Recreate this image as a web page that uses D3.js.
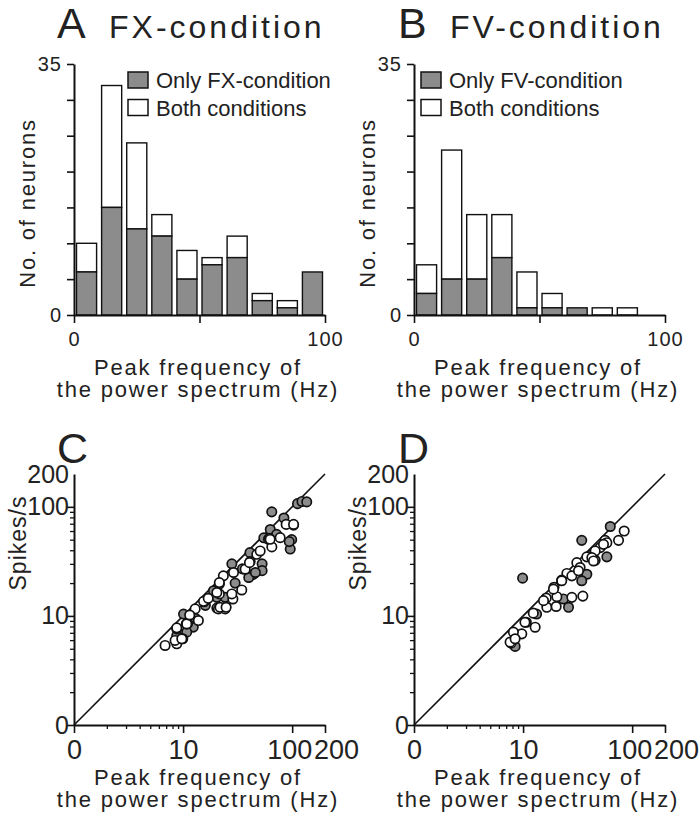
<!DOCTYPE html>
<html><head><meta charset="utf-8">
<script src="https://cdn.jsdelivr.net/npm/d3@7"></script>
<style>
body{margin:0;background:#fff;}
text{font-family:"Liberation Sans",Arial,sans-serif;fill:#222;}
</style></head><body>
<svg id="chart" width="700" height="827"></svg>
<script>
// ---------- DATA ----------
const binStarts = [0,10,20,30,40,50,60,70,80,90];
const fxOnly  = [6,15,12,11,5,7,8,2,1,6];
const fxBoth  = [4,17,12,3,4,1,3,1,1,0];
const fvOnly  = [3,5,5,8,1,1,1,0,0,0];
const fvBoth  = [4,18,9,6,5,2,0,1,1,0];
const histYTicks = [0,5,10,15,20,25,30,35];
const histXTicks = [0,50,100];

const cGray = [[65,90],[84,79],[112,107],[123,112],[136,111],[103,68],[99,50],[96,41],[63,62],[55,52],[72,56],[94,48],
  [28,30],[53,30],[44,24],[41,38],[53,26],[40,22.5],[46,25],[20.4,14.8],[24.3,14.8],[19,17],[12.4,7.9],[10.8,7.1],
  [10.1,10.4],[8.75,6.6],[30,20],[35,27],[16,12.5],[13,9.5],[11,8.5]];
const cWhite = [[6.84,5.36],[8.75,5.55],[8.75,7.61],[9.93,6.17],[10.7,8.45],[12.9,11.6],[13.8,9.07],[15.6,13.5],
  [20.4,11.8],[21.5,15.9],[21.5,19.6],[24.6,12.0],[23.4,23.3],[28.6,14.3],[29.0,25.0],[34.5,17.3],[37.1,26.8],
  [41.2,31.5],[47.4,36.7],[50.9,39.4],[60.6,50.4],[65.1,42.9],[77.6,52.2],[88.1,69.0],[8.45,5.96],[9.73,6.17],
  [8.75,7.78],[10.8,8.45],[15.4,13.6],[21.1,11.6],[24.3,11.6],[28.0,15.9],[21.5,20.2],[20.4,16.4],[21.8,12.0],
  [24.8,12.0],[40.6,30.8],[61.9,51.4],[103,69.0],[62.8,50.4],[11.5,10.2],[17,14.5]];
const dGray = [[9.9,22.2],[34.5,49.3],[63,66],[58.6,34.8],[26.1,12.0],[8.45,5.25],[38.4,24.1],[34.5,21.0],
  [23.4,14.3],[13.3,10.4],[8.45,6.85]];
const dWhite = [[84.5,60.0],[75.0,49.3],[56.5,49.3],[44.2,38.1],[45.8,32.4],[38.4,34.8],[31.1,30.8],[33.3,27.8],
  [25.2,24.5],[28.0,23.3],[22.6,21.3],[19.2,18.3],[20.4,15.0],[16.3,14.6],[16.5,12.0],[20.1,12.2],[28.0,14.8],
  [35.3,15.2],[12.4,10.6],[10.7,8.75],[9.73,6.85],[8.15,7.10],[7.76,5.63],[50.9,42.3],[45.8,39.4],[12.9,7.88],
  [7.6,5.75],[8.45,6.17],[10.4,8.75],[15.4,13.8],[19.0,17.6],[22.6,21.0],[32.2,25.9],[58.6,46.9],[54.6,45.3],
  [42.7,34.2],[44.2,31.9]];
const logMajor = [1,10,100];
const logXMinor = [2,3,4,5,6,7,8,9];
const logYMinor = [2,3,4,5,6,7,8,9,20,30,40,50,60,70,80,90];
const logLabels = {1:"0",10:"10",100:"100",200:"200"};

const GRAY = "#8c8c8c";
const svg = d3.select("#chart");

function styleAxis(g){
  g.select(".domain").attr("stroke","#111").attr("stroke-width",2);
  g.selectAll(".tick line").attr("stroke","#111").attr("stroke-width",1.6);
  g.selectAll(".tick text").attr("fill","#222");
}

function title(x, letter, label, y){
  svg.append("text").attr("x",x).attr("y",y).attr("font-size",43).text(letter);
  if(label) svg.append("text").attr("x",x+52).attr("y",y).attr("font-size",32).attr("letter-spacing","3px").text(label);
}

function xTitle(cx, y){
  const t = svg.append("text").attr("text-anchor","middle").attr("font-size",22).attr("letter-spacing","1.8px");
  t.append("tspan").attr("x",cx).attr("y",y).text("Peak frequency of");
  t.append("tspan").attr("x",cx).attr("y",y+22).text("the power spectrum (Hz)");
}

function histogram(x0, only, both, legendLabel){
  const x = d3.scaleLinear().domain([0,100]).range([x0, x0+251]);
  const y = d3.scaleLinear().domain([0,35]).range([315,64]);
  const band = d3.scaleBand().domain(binStarts).range([x0, x0+251]).paddingInner(0.2).paddingOuter(0.1);
  const g = svg.append("g");
  binStarts.forEach((b,i)=>{
    const tot = only[i]+both[i];
    if(both[i]>0) g.append("rect").attr("x",band(b)).attr("width",band.bandwidth())
      .attr("y",y(tot)).attr("height",y(only[i])-y(tot)).attr("fill","#fff").attr("stroke","#111").attr("stroke-width",1.4);
    if(only[i]>0) g.append("rect").attr("x",band(b)).attr("width",band.bandwidth())
      .attr("y",y(only[i])).attr("height",y(0)-y(only[i])).attr("fill",GRAY).attr("stroke","#111").attr("stroke-width",1.4);
  });
  const ya = svg.append("g").attr("transform",`translate(${x0},0)`)
    .call(d3.axisLeft(y).tickValues(histYTicks).tickSize(7).tickSizeOuter(0)
      .tickFormat(d=> (d===0||d===35)? String(d):""));
  styleAxis(ya);
  ya.selectAll(".tick text").attr("font-size",20).attr("font-family","Liberation Sans").attr("letter-spacing","1px").attr("dx",-2);
  const xa = svg.append("g").attr("transform",`translate(0,315)`)
    .call(d3.axisBottom(x).tickValues(histXTicks).tickSize(8).tickSizeOuter(0)
      .tickFormat(d=> d===50? "": String(d)));
  styleAxis(xa);
  xa.selectAll(".tick text").attr("font-size",20).attr("font-family","Liberation Sans").attr("letter-spacing","1px").attr("dy","1em");
  svg.append("text").attr("transform",`translate(${x0-39},203) rotate(-90)`).attr("text-anchor","middle")
    .attr("font-size",22).attr("letter-spacing","1.8px").text("No. of neurons");
  const lx = x0 + (legendLabel.indexOf("FX")>=0 ? 54 : 7);
  [[GRAY,legendLabel],["#fff","Both conditions"]].forEach((d,i)=>{
    svg.append("rect").attr("x",lx).attr("y",72+i*27.5).attr("width",20).attr("height",16)
      .attr("fill",d[0]).attr("stroke","#111").attr("stroke-width",1.5);
    svg.append("text").attr("x",lx+28).attr("y",88+i*27.5).attr("font-size",22).text(d[1]);
  });
  xTitle(x0+124, 375);
}

function scatter(x0, gray, white){
  const x = d3.scaleLog().domain([1,200]).range([x0, x0+251]);
  const y = d3.scaleLog().domain([1,200]).range([725,474]);
  svg.append("line").attr("x1",x(1)).attr("y1",y(1)).attr("x2",x(200)).attr("y2",y(200))
    .attr("stroke","#111").attr("stroke-width",1.6);
  const g = svg.append("g");
  g.selectAll(".g").data(gray).enter().append("circle")
    .attr("cx",d=>x(d[0])).attr("cy",d=>y(d[1])).attr("r",4.7)
    .attr("fill",GRAY).attr("stroke","#111").attr("stroke-width",1.7);
  g.selectAll(".w").data(white).enter().append("circle")
    .attr("cx",d=>x(d[0])).attr("cy",d=>y(d[1])).attr("r",4.7)
    .attr("fill","#fff").attr("stroke","#111").attr("stroke-width",1.7);
  const ya = svg.append("g").attr("transform",`translate(${x0},0)`)
    .call(d3.axisLeft(y).tickValues(logMajor).tickSize(7).tickSizeOuter(0).tickFormat(()=>""));
  styleAxis(ya);
  svg.append("g").attr("transform",`translate(${x0},0)`)
    .call(d3.axisLeft(y).tickValues(logYMinor).tickSize(4).tickSizeOuter(0).tickFormat(()=>""))
    .call(g=>{g.select(".domain").remove(); g.selectAll("line").attr("stroke","#111").attr("stroke-width",1.3);});
  const yl = svg.append("g").attr("transform",`translate(${x0},0)`)
    .call(d3.axisLeft(y).tickValues([1,10,100,200]).tickSize(0).tickPadding(5).tickFormat(d=>logLabels[d]));
  yl.select(".domain").remove();
  yl.selectAll("text").attr("font-size",25).attr("font-family","Liberation Sans").attr("fill","#222");
  const xa = svg.append("g").attr("transform",`translate(0,725)`)
    .call(d3.axisBottom(x).tickValues([1,10,100,200]).tickSize(8).tickSizeOuter(0).tickFormat(d=>logLabels[d]));
  styleAxis(xa);
  xa.selectAll(".tick text").attr("font-size",27).attr("font-family","Liberation Sans").attr("dy","0.85em")
    .attr("dx",d=> d===200? 11 : (d===100? -3:0));
  svg.append("g").attr("transform",`translate(0,725)`)
    .call(d3.axisBottom(x).tickValues(logXMinor).tickSize(4).tickSizeOuter(0).tickFormat(()=>""))
    .call(g=>{g.select(".domain").remove(); g.selectAll("line").attr("stroke","#111").attr("stroke-width",1.3);});
  svg.append("text").attr("transform",`translate(${x0-48},543) rotate(-90)`).attr("text-anchor","middle")
    .attr("font-size",23).attr("letter-spacing","1px").text("Spikes/s");
  xTitle(x0+124, 785);
}

title(57,"A","FX-condition",38);
title(398,"B","FV-condition",38);
histogram(74, fxOnly, fxBoth, "Only FX-condition");
histogram(414, fvOnly, fvBoth, "Only FV-condition");
title(57,"C",null,463);
title(398,"D",null,463);
scatter(74, cGray, cWhite);
scatter(414, dGray, dWhite);
</script></body></html>
